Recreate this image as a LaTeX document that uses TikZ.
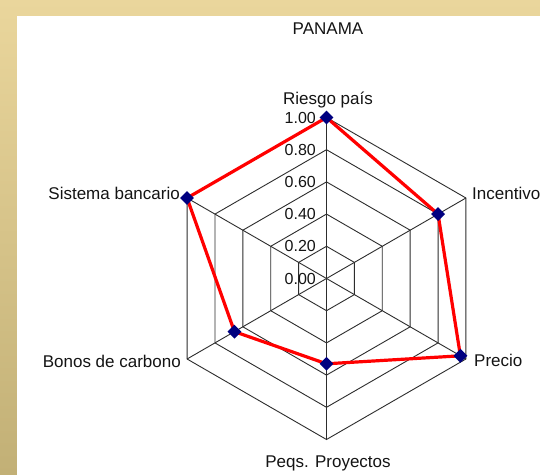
\documentclass[tikz,border=0pt]{standalone}
\usepackage{fontspec}
\setmainfont{Liberation Sans}
\usepackage{tikz}
\usetikzlibrary{shapes.geometric}

\definecolor{goldlight}{RGB}{234,214,156}
\definecolor{golddark}{RGB}{194,176,118}
\definecolor{markerblue}{RGB}{0,0,128}
\definecolor{gridgray}{RGB}{45,45,45}
\definecolor{labelgray}{RGB}{20,20,20}

\tikzset{
    gridline/.style={draw=gridgray, line width=0.9pt},
    dataline/.style={draw=red, line width=3.2pt, line join=round},
    marker/.style={diamond, fill=markerblue, inner sep=0pt, minimum width=14pt, minimum height=14pt},
    axislabel/.style={font=\fontsize{17}{20}\selectfont, text=labelgray, inner sep=0pt},
    ticklabel/.style={font=\fontsize{16}{19}\selectfont, text=labelgray, inner sep=0pt, anchor=east},
}

\begin{document}
\begin{tikzpicture}[x=1pt, y=1pt]
    \useasboundingbox (0,0) rectangle (540,474);
    \shade[top color=goldlight, bottom color=golddark] (0,0) rectangle (540,474);
    \fill[white] (17,-3) rectangle (543,458);

    \node[axislabel, anchor=base] (title) at (328,439.5) {PANAMA};

    \begin{scope}[shift={(326.5,195.5)}]
        % rings
        \foreach \r in {32.2,64.4,96.6,128.8,161}
            \draw[gridline] (90:\r) -- (30:\r) -- (-30:\r) -- (-90:\r) -- (210:\r) -- (150:\r) -- cycle;
        % spokes
        \foreach \a [count=\i] in {90,30,-30,-90,210,150}
            \draw[gridline] (0,0) -- (\a:161) coordinate (v\i);

        % scale
        \foreach \t [count=\k from 0] in {0.00,0.20,0.40,0.60,0.80,1.00}
            \node[ticklabel] (t\k) at (-10.5,\k*32.2) {\t};

        % values
        \coordinate (d1) at (90:161);
        \coordinate (d2) at (30:128.8);
        \coordinate (d3) at (-30:154.6);
        \coordinate (d4) at (-90:85.3);
        \coordinate (d5) at (210:106.3);
        \coordinate (d6) at (150:161);
        \draw[dataline] (d1) -- (d2) -- (d3) -- (d4) -- (d5) -- (d6) -- cycle;
        \foreach \i in {1,...,6}
            \node[marker] (m\i) at (d\i) {};

        \node[axislabel, anchor=base] (riesgo) at (1.5,173.5) {Riesgo país};
        \node[axislabel, anchor=base west] (incentivo) at (145.5,78.5) {Incentivo};
        \node[axislabel, anchor=base west] (precio) at (147.5,-87.5) {Precio};
        \node[axislabel, anchor=base] (peqs) at (1.5,-188.5) {Peqs. Proyectos};
        \node[axislabel, anchor=base east] (bonos) at (-145.5,-88.5) {Bonos de carbono};
        \node[axislabel, anchor=base east] (sistema) at (-146.5,78.5) {Sistema bancario};
    \end{scope}
\end{tikzpicture}
\end{document}
